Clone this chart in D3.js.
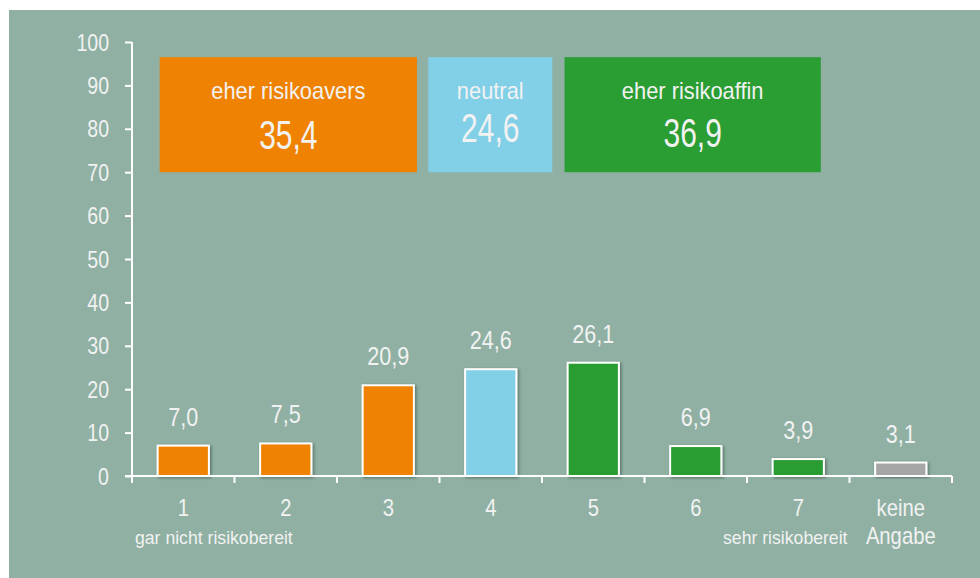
<!DOCTYPE html>
<meta charset="utf-8">
<title>Risikobereitschaft</title>
<style>
body { margin: 0; background: #fff; }
svg { display: block; }
text { font-family: "Liberation Sans", Arial, sans-serif; fill: #f2f2f2; }
</style>

<script src="https://d3js.org/d3.v7.min.js"></script>

<div id="chart"></div>

<script>

// data
var categories = ["1", "2", "3", "4", "5", "6", "7", "keine Angabe"];
var values = [7.0, 7.5, 20.9, 24.6, 26.1, 6.9, 3.9, 3.1];
var groups = ["avers", "avers", "avers", "neutral", "affin", "affin", "affin", "none"];
var yTicks = [0, 10, 20, 30, 40, 50, 60, 70, 80, 90, 100];

var boxLabels = ["eher risikoavers", "neutral", "eher risikoaffin"];
var boxValues = [35.4, 24.6, 36.9];
var boxGroups = ["avers", "neutral", "affin"];

var color = {avers: "#ef8200", neutral: "#82cfe8", affin: "#2a9d33", none: "#a6a6a6"};

var W = 980, H = 578;
var fmt = function(v) { return d3.format(".1f")(v).replace(".", ","); };

var svg = d3.select("#chart").append("svg")
  .attr("width", W)
  .attr("height", H);

// soft shadow under bars
var defs = svg.append("defs");
defs.append("filter").attr("id", "shadow")
  .attr("x", "-20%").attr("y", "-20%").attr("width", "140%").attr("height", "140%")
  .append("feDropShadow")
  .attr("dx", 1.5).attr("dy", 1).attr("stdDeviation", 1.5)
  .attr("flood-color", "#000").attr("flood-opacity", 0.35);

// background panel
svg.append("rect")
  .attr("x", 9).attr("y", 10)
  .attr("width", W - 9).attr("height", H - 10)
  .attr("fill", "#8fb0a3");

// scales
var x = d3.scaleBand().domain(categories).range([132, 952]).padding(0);
var y = d3.scaleLinear().domain([0, 100]).range([476, 42]);
var bw = x.bandwidth();

// put text at a point and squeeze it sideways (the original is narrow)
function place(sel, px, py, k) {
  sel.attr("transform", function(d, i) {
    var a = typeof px === "function" ? px(d, i) : px;
    var b = typeof py === "function" ? py(d, i) : py;
    return "translate(" + a + "," + b + ") scale(" + k + ",1)";
  });
  return sel;
}

// y axis
var yAxis = svg.append("g")
  .attr("transform", "translate(132,0)")
  .call(d3.axisLeft(y).tickValues(yTicks).tickSize(7).tickPadding(16).tickFormat(d3.format("d")));
yAxis.select(".domain").attr("stroke", "#fff").attr("stroke-width", 2)
  .attr("d", "M0," + y(100) + "V" + (y(0) + 6));
yAxis.selectAll(".tick line").attr("stroke", "#fff").attr("stroke-width", 2);
yAxis.selectAll(".tick text").each(function(d) {
  var t = d3.select(this);
  t.attr("x", null).attr("dy", null).attr("font-size", 23).attr("text-anchor", "end");
  place(t, -23, 8, 0.85);   // tick group is already shifted to y(d)
});

// bars
svg.append("g").selectAll("rect")
  .data(values)
  .join("rect")
  .attr("x", function(d, i) { return x(categories[i]) + bw * 0.25; })
  .attr("y", function(d) { return y(d); })
  .attr("width", bw * 0.5)
  .attr("height", function(d) { return y(0) - y(d); })
  .attr("fill", function(d, i) { return color[groups[i]]; })
  .attr("stroke", "#fff")
  .attr("stroke-width", 2)
  .attr("filter", "url(#shadow)");

// x axis line and boundary ticks
var xa = svg.append("g").attr("stroke", "#fff").attr("stroke-width", 2);
xa.append("line")
  .attr("x1", 125).attr("x2", x.range()[1])
  .attr("y1", y(0)).attr("y2", y(0));
xa.selectAll("line.tk")
  .data(categories.concat(["end"]))
  .join("line")
  .attr("class", "tk")
  .attr("x1", function(d) { return d === "end" ? x.range()[1] : x(d); })
  .attr("x2", function(d) { return d === "end" ? x.range()[1] : x(d); })
  .attr("y1", y(0)).attr("y2", y(0) + 7);

// value labels
place(svg.append("g").selectAll("text")
  .data(values)
  .join("text")
  .attr("text-anchor", "middle")
  .attr("font-size", 26)
  .text(function(d) { return fmt(d); }),
  function(d, i) { return x(categories[i]) + bw / 2; },
  function(d) { return y(d) - 20; }, 0.83);

// category labels
var cat = svg.append("g");
categories.forEach(function(c) {
  var lines = c.split(" ");
  lines.forEach(function(l, j) {
    place(cat.append("text")
      .attr("text-anchor", "middle")
      .attr("font-size", 23)
      .text(l), x(c) + bw / 2, 516 + j * 28, 0.88);
  });
});
place(cat.append("text")
  .attr("text-anchor", "start")
  .attr("font-size", 18)
  .text("gar nicht risikobereit"), x("1") + 3, 544, 0.98);
place(cat.append("text")
  .attr("text-anchor", "end")
  .attr("font-size", 18)
  .text("sehr risikobereit"), x("7") + bw - 2, 544, 0.98);

// summary boxes: left/right as band fractions, spanning 70..96.5 on the value axis
var boxSpan = [["1", 0.27, "3", 0.78], ["4", -0.11, "4", 1.1], ["5", 0.22, "7", 0.72]];
var numDrop = [50, 43, 48];
var boxes = svg.append("g").selectAll("g")
  .data(boxLabels)
  .join("g");
boxes.append("rect")
  .attr("x", function(d, i) { return x(boxSpan[i][0]) + boxSpan[i][1] * bw; })
  .attr("y", y(96.5))
  .attr("width", function(d, i) {
    return x(boxSpan[i][2]) + boxSpan[i][3] * bw - x(boxSpan[i][0]) - boxSpan[i][1] * bw;
  })
  .attr("height", y(70) - y(96.5))
  .attr("fill", function(d, i) { return color[boxGroups[i]]; });
function boxMid(d, i) {
  return (x(boxSpan[i][0]) + boxSpan[i][1] * bw + x(boxSpan[i][2]) + boxSpan[i][3] * bw) / 2;
}
boxes.each(function(d, i) {
  var g = d3.select(this);
  place(g.append("text")
    .attr("text-anchor", "middle")
    .attr("font-size", 23)
    .text(d), boxMid(d, i), y(96.5) + 42, 0.95);
  place(g.append("text")
    .attr("text-anchor", "middle")
    .attr("font-size", 40)
    .text(fmt(boxValues[i])), boxMid(d, i), y(96.5) + 42 + numDrop[i], 0.75);
});

</script>
